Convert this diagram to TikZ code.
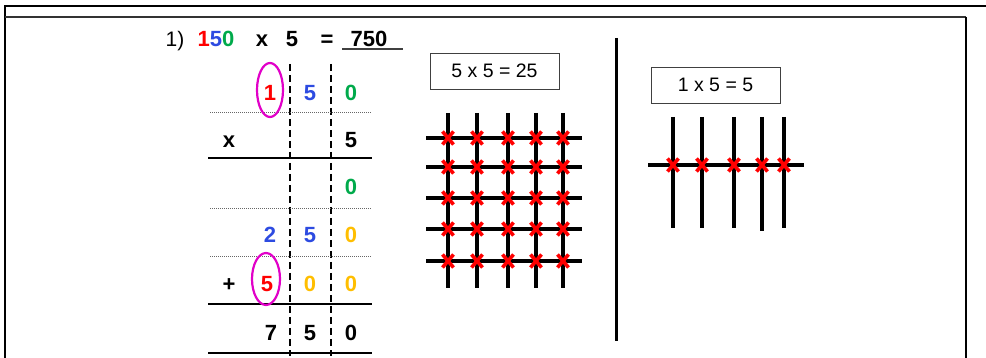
\documentclass[tikz,border=0pt]{standalone}
\usepackage{fontspec}
\setmainfont{Liberation Sans}
\usetikzlibrary{positioning}
\definecolor{dgred}{RGB}{255,0,0}
\definecolor{dgblue}{RGB}{45,75,225}
\definecolor{dggreen}{RGB}{0,170,75}
\definecolor{dgorange}{RGB}{255,190,0}
\definecolor{ringcol}{RGB}{225,0,200}

\begin{document}
\begin{tikzpicture}[x=1pt,y=-1pt,
  every node/.style={font=\fontsize{22}{25}\selectfont\bfseries,inner sep=0pt},
  dig/.style={anchor=base},
  sumbox/.style={draw=black!75,semithick,minimum width=129pt,minimum
  height=36pt,font=\fontsize{19.5}{22}\selectfont},
  rule/.style={line width=2.8pt}, dots/.style={black!60,line width=0.9pt,
  dash pattern=on 1pt off 1pt}, col/.style={line width=2.8pt,dash pattern=on
  7pt off 4pt}, ring/.style={draw=ringcol,line width=2.2pt},
  stick/.style={line width=3.8pt}, cross/.style={dgred,line width=3.6pt},
  frame/.style={line width=1.8pt}]
  \useasboundingbox (0,0) rectangle (986,358);
  % frame
  \draw[frame] (4,6) -- (986,6);
  \draw[frame] (5,6) -- (5,358);
  \draw[frame,black!80] (5,17) -- (966,17);
  \draw[frame] (966,17) -- (966,358);
  % title line
  \node[dig,font=\fontsize{21}{24}\selectfont] (num) at (175,47) {1)};
  \node[dig] (fac) at (216,47)
  {\textcolor{dgred}{1}\textcolor{dgblue}{5}\textcolor{dggreen}{0}};
  \node[dig] (tim) at (262,47) {x};
  \node[dig] (fac2) at (292,47) {5};
  \node[dig] (eq) at (327,47) {=};
  \node[dig] (res) at (369,47) {750};
  \draw[line width=1.6pt,black!75] (342,49) -- (403,49);
  % columns and rules
  \draw[col] (290,64) -- (290,356);
  \draw[col] (331,64) -- (331,356);
  \foreach \y in {112,208,256} \draw[dots] (210,\y) -- (372,\y);
  \foreach \y in {158,304,353} \draw[rule] (208,\y) -- (372,\y);
  % digits
  \node[dig,dgred] (a1) at (270,101) {1};
  \node[dig,dgblue] (a2) at (310,101) {5};
  \node[dig,dggreen] (a3) at (351,101) {0};
  \node[dig] (b0) at (229,148) {x};
  \node[dig] (b3) at (351,148) {5};
  \node[dig,dggreen] (c3) at (351,195) {0};
  \node[dig,dgblue] (d1) at (270,243) {2};
  \node[dig,dgblue] (d2) at (310,243) {5};
  \node[dig,dgorange] (d3) at (351,243) {0};
  \node[dig] (e0) at (229,291) {+};
  \node[dig,dgred] (e1) at (267,291) {5};
  \node[dig,dgorange] (e2) at (310,291) {0};
  \node[dig,dgorange] (e3) at (351,291) {0};
  \node[dig] (f1) at (271,341) {7};
  \node[dig] (f2) at (310,341) {5};
  \node[dig] (f3) at (351,341) {0};
  \draw[ring] (270,90) ellipse (13 and 27);
  \draw[ring] (266,279) ellipse (14 and 26);
  % 5 x 5 grid
  \node[sumbox] (box25) at (494.5,71) {5 x 5 = 25};
  \foreach \x in {448,477,508,536,563} \draw[stick] (\x,113) -- (\x,288);
  \foreach \y in {138,167,198,229,261} \draw[stick] (426,\y) -- (582,\y);
  \foreach \x in {448,477,508,536,563} \foreach \y in {138,167,198,229,261} {
    \draw[cross] (\x-5.5,\y-6.5) -- (\x+5.5,\y+6.5);
    \draw[cross] (\x-5.5,\y+6.5) -- (\x+5.5,\y-6.5); }
  % separator
  \draw[line width=3pt] (616,38) -- (616,341);
  % 1 x 5
  \node[sumbox] (box5) at (715.5,85) {1 x 5 = 5};
  \foreach \x/\e in {673/228,702/228,734/228,762/231,784/228}
    \draw[stick] (\x,117) -- (\x,\e);
  \draw[stick] (648,165) -- (804,165);
  \foreach \x in {673,702,734,762,784} {
    \draw[cross] (\x-5.5,165-6.5) -- (\x+5.5,165+6.5);
    \draw[cross] (\x-5.5,165+6.5) -- (\x+5.5,165-6.5); }
\end{tikzpicture}
\end{document}
